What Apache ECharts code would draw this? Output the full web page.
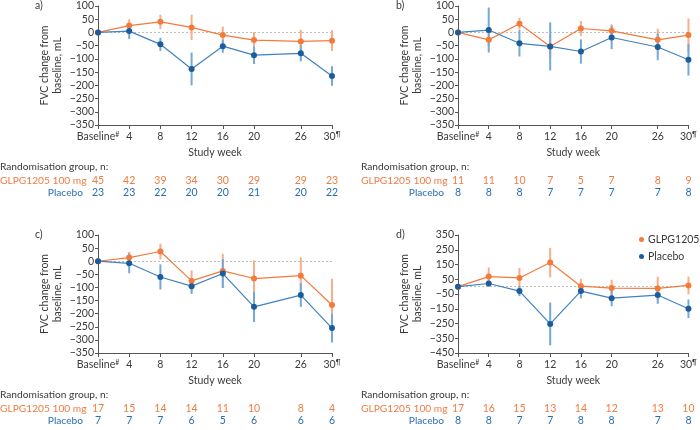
<!DOCTYPE html>
<html>
<head>
<meta charset="utf-8">
<script src="https://cdn.jsdelivr.net/npm/echarts@6/dist/echarts.min.js"></script>
<style>html,body{margin:0;padding:0;background:#fff;}#c{width:700px;height:430px;}</style>
</head>
<body>
<div id="c"></div>
<script>
// ---- data ----
const weeks = [0, 4, 8, 12, 16, 20, 26, 30];
const tickWeeks = [0, 4, 8, 12, 16, 20, 26, 30];

const aGlpgMean = [0, 26, 40, 19, -10, -29, -34, -31];
const aGlpgErr  = [0, 24, 27, 48, 32, 31, 44, 39];
const aPlbMean  = [0, 5, -45, -138, -52, -86, -79, -165];
const aPlbErr   = [0, 30, 25, 62, 25, 33, 30, 37];
const aGlpgN = [45, 42, 39, 34, 30, 29, 29, 23];
const aPlbN  = [23, 23, 22, 20, 20, 21, 20, 22];

const bGlpgMean = [0, -28, 33, -53, 15, 6, -28, -10];
const bGlpgErr  = [0, 25, 22, 45, 28, 25, 42, 63];
const bPlbMean  = [0, 9, -41, -53, -72, -19, -55, -103];
const bPlbErr   = [0, 85, 50, 91, 46, 44, 50, 60];
const bGlpgN = [11, 11, 10, 7, 5, 7, 8, 9];
const bPlbN  = [8, 8, 8, 7, 7, 7, 7, 8];

const cGlpgMean = [0, 14, 37, -75, -37, -66, -55, -167];
const cGlpgErr  = [0, 22, 30, 40, 65, 70, 70, 100];
const cPlbMean  = [0, -8, -60, -95, -47, -174, -129, -255];
const cPlbErr   = [0, 38, 48, 30, 55, 58, 45, 55];
const cGlpgN = [17, 15, 14, 14, 11, 10, 8, 4];
const cPlbN  = [7, 7, 7, 6, 5, 6, 6, 6];

const dGlpgMean = [0, 68, 59, 163, 3, -10, -12, 8];
const dGlpgErr  = [0, 62, 67, 100, 50, 57, 80, 60];
const dPlbMean  = [0, 21, -30, -253, -30, -78, -57, -150];
const dPlbErr   = [0, 20, 35, 145, 50, 55, 60, 63];
const dGlpgN = [17, 16, 15, 13, 14, 12, 13, 10];
const dPlbN  = [8, 8, 7, 7, 8, 8, 7, 8];

const yTicksStd = [-350, -300, -250, -200, -150, -100, -50, 0, 50, 100];
const yTicksD = [-450, -350, -250, -150, -50, 50, 150, 250, 350];

// ---- styling ----
const FONT = 'Lato, "Noto Sans", sans-serif';
const FS = 10.5, FS_TXT = 10.2;
const TXT = '#3a3a3a';
const OR = '#f47a3c', OR_ERR = '#f8ae88';
const BL = '#1b5c9c', BL_LINE = '#3f82c1', BL_ERR = '#74a8d8';
const BL_TXT = '#2a6db3', OR_TXT = '#f07b44';

const panels = [
  {letter: 'a)', grid: {left: 98, top: 6, width: 234, height: 119}, ymin: -350, ymax: 100, ticks: yTicksStd,
   g: aGlpgMean, ge: aGlpgErr, p: aPlbMean, pe: aPlbErr, gn: aGlpgN, pn: aPlbN, tx: 0, lx: 35},
  {letter: 'b)', grid: {left: 458, top: 6, width: 234, height: 119}, ymin: -350, ymax: 100, ticks: yTicksStd,
   g: bGlpgMean, ge: bGlpgErr, p: bPlbMean, pe: bPlbErr, gn: bGlpgN, pn: bPlbN, tx: 361, lx: 396},
  {letter: 'c)', grid: {left: 98, top: 235, width: 234, height: 118}, ymin: -350, ymax: 100, ticks: yTicksStd,
   g: cGlpgMean, ge: cGlpgErr, p: cPlbMean, pe: cPlbErr, gn: cGlpgN, pn: cPlbN, tx: 0, lx: 35},
  {letter: 'd)', grid: {left: 458, top: 235, width: 234, height: 118}, ymin: -450, ymax: 350, ticks: yTicksD,
   g: dGlpgMean, ge: dGlpgErr, p: dPlbMean, pe: dPlbErr, gn: dGlpgN, pn: dPlbN, tx: 361, lx: 396}
];

const grid = [], xAxis = [], yAxis = [], series = [], graphic = [];

function errSeries(i, name, mean, err, color) {
  return {
    type: 'custom', name: name, xAxisIndex: i, yAxisIndex: i, z: 1, silent: true, clip: false,
    itemStyle: {color: color},
    data: weeks.map((w, k) => [w, mean[k], err[k]]),
    renderItem: function (params, api) {
      const x = api.value(0), m = api.value(1), e = api.value(2);
      if (!e) return null;
      const p1 = api.coord([x, m + e]), p2 = api.coord([x, m - e]);
      return {type: 'line', shape: {x1: p1[0], y1: p1[1], x2: p2[0], y2: p2[1]},
        style: {stroke: color, lineWidth: 2}};
    }
  };
}

function nSeries(i, vals, ymin, offset, color) {
  return {
    type: 'custom', xAxisIndex: i, yAxisIndex: i, z: 5, silent: true, clip: false,
    data: weeks.map((w, k) => [w, vals[k]]),
    renderItem: function (params, api) {
      const p = api.coord([api.value(0), ymin]);
      return {type: 'text', x: p[0], y: p[1] + offset,
        style: {text: String(api.value(1)), fill: color, font: FS + 'px ' + FONT,
          textAlign: 'center', align: 'center', textVerticalAlign: 'middle', verticalAlign: 'middle'}};
    }
  };
}

panels.forEach((P, i) => {
  grid.push(Object.assign({containLabel: false}, P.grid));
  xAxis.push({
    type: 'value', gridIndex: i, min: 0, max: 30,
    name: 'Study week', nameLocation: 'middle', nameGap: 22,
    nameTextStyle: {fontFamily: FONT, fontSize: FS_TXT + 0.3, color: TXT},
    axisLine: {show: true, onZero: false, lineStyle: {color: '#555', width: 1}},
    axisTick: {show: true, length: 4, customValues: tickWeeks, lineStyle: {color: '#555'}},
    splitLine: {show: false},
    axisLabel: {
      customValues: tickWeeks, margin: 6, fontFamily: FONT, fontSize: FS, color: TXT,
      formatter: function (v) {
        if (v === 0) return 'Baseline{s|#}';
        if (v === 30) return '30{s|¶}';
        return String(v);
      },
      rich: {s: {fontSize: 7, fontFamily: FONT, color: TXT, verticalAlign: 'top', padding: [0, 0, 5, 0]}}
    }
  });
  yAxis.push({
    type: 'value', gridIndex: i, min: P.ymin, max: P.ymax, interval: 50,
    name: 'FVC change from\nbaseline, mL', nameLocation: 'middle', nameGap: 34,
    nameTextStyle: {fontFamily: FONT, fontSize: FS_TXT + 0.3, color: TXT, lineHeight: 13, align: 'center'},
    axisLine: {show: true, onZero: false, lineStyle: {color: '#555', width: 1}},
    axisTick: {show: true, length: 3, customValues: P.ticks, lineStyle: {color: '#555'}},
    splitLine: {show: false},
    axisLabel: {customValues: P.ticks, margin: 4, fontFamily: FONT, fontSize: FS, color: TXT,
      formatter: v => (v < 0 ? '\u2212' + Math.abs(v) : String(v))}
  });

  series.push(errSeries(i, 'GLPG1205', P.g, P.ge, OR_ERR));
  series.push(errSeries(i, 'Placebo', P.p, P.pe, BL_ERR));
  series.push({
    type: 'line', name: 'GLPG1205', xAxisIndex: i, yAxisIndex: i, z: 3,
    data: weeks.map((w, k) => [w, P.g[k]]),
    symbol: 'circle', symbolSize: 6, color: OR,
    itemStyle: {color: OR}, lineStyle: {color: OR, width: 1.2},
    markLine: {silent: true, symbol: 'none', label: {show: false}, z: 0,
      lineStyle: {color: '#bdbdbd', type: [2, 2], width: 1}, data: [{yAxis: 0}]}
  });
  series.push({
    type: 'line', name: 'Placebo', xAxisIndex: i, yAxisIndex: i, z: 3,
    data: weeks.map((w, k) => [w, P.p[k]]),
    symbol: 'circle', symbolSize: 6, color: BL,
    itemStyle: {color: BL}, lineStyle: {color: BL_LINE, width: 1.2}
  });
  series.push(nSeries(i, P.gn, P.ymin, 56, OR_TXT));
  series.push(nSeries(i, P.pn, P.ymin, 68, BL_TXT));

  const bottom = P.grid.top + P.grid.height;
  graphic.push({type: 'text', x: P.lx, y: P.grid.top,
    style: {text: P.letter, font: FS + 'px ' + FONT, fill: TXT, textVerticalAlign: 'middle'}});
  graphic.push({type: 'text', x: P.tx, y: bottom + 42,
    style: {text: 'Randomisation group, n:', font: FS_TXT + 'px ' + FONT, fill: TXT, textVerticalAlign: 'middle'}});
  graphic.push({type: 'text', x: P.tx, y: bottom + 56,
    style: {text: 'GLPG1205 100 mg', font: FS_TXT + 'px ' + FONT, fill: OR_TXT, textVerticalAlign: 'middle'}});
  graphic.push({type: 'text', x: P.tx + 83, y: bottom + 68,
    style: {text: 'Placebo', font: FS_TXT + 'px ' + FONT, fill: BL_TXT, textAlign: 'right', textVerticalAlign: 'middle'}});
});

const chart = echarts.init(document.getElementById('c'), null, {renderer: 'canvas'});
chart.setOption({
  animation: false,
  backgroundColor: '#fff',
  textStyle: {fontFamily: FONT},
  grid: grid, xAxis: xAxis, yAxis: yAxis, series: series, graphic: graphic,
  legend: {
    orient: 'vertical', left: 634, top: 229, padding: [5, 0, 5, 5], itemWidth: 5, itemHeight: 5, itemGap: 6,
    icon: 'circle', textStyle: {fontFamily: FONT, fontSize: FS, color: TXT, padding: [0, 0, 0, -1]},
    data: [{name: 'GLPG1205', itemStyle: {color: OR}}, {name: 'Placebo', itemStyle: {color: BL}}]
  }
});
</script>
</body>
</html>
